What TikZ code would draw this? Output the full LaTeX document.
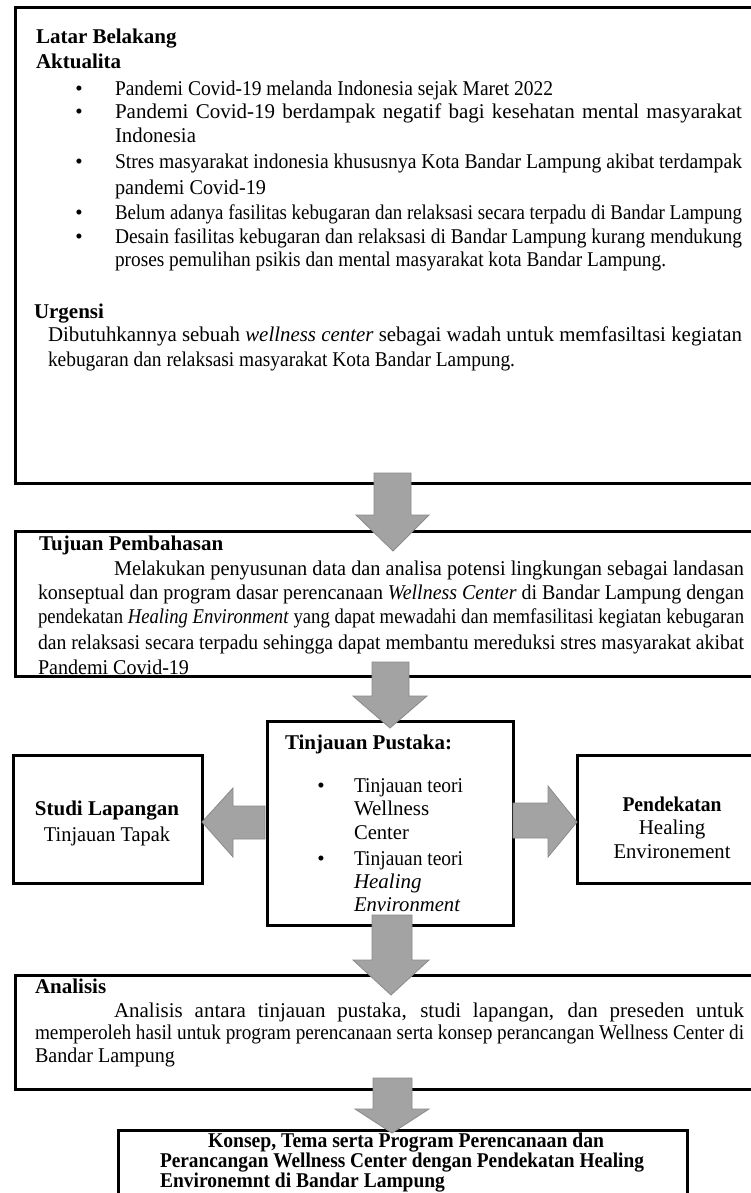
\documentclass[tikz,border=0pt]{standalone}
\usepackage{fontspec}
\setmainfont{Liberation Serif}
\usepackage{graphicx}
\definecolor{arrowgray}{RGB}{163,163,163}
\definecolor{arrowedge}{RGB}{138,138,138}
\newcommand\fs{\fontsize{21}{24}\selectfont}
% justified line: fit exactly to width
\newcommand\jl[2]{\setbox0=\hbox{#2}\ifdim\wd0>#1pt\relax\resizebox{#1pt}{\height}{#2}\else\makebox[#1pt][s]{#2}\fi}
% ragged line: condense only if too wide
\newcommand\jr[2]{\setbox0=\hbox{#2}\ifdim\wd0>#1pt\relax\resizebox{#1pt}{\height}{#2}\else\box0\fi}
\tikzset{
  txt/.style={inner sep=0pt, outer sep=0pt, font=\fs, text=black},
  box/.style={draw=black, line width=3pt, inner sep=0pt, anchor=north west},
  blockarrow/.style={fill=arrowgray, draw=arrowedge, line width=0.8pt, line join=miter},
}
\newcommand\Tl[5]{\node[txt,anchor=base west] (#1) at (#2,#3) {\jl{#4}{#5}};}
\newcommand\Tr[5]{\node[txt,anchor=base west] (#1) at (#2,#3) {\jr{#4}{#5}};}
\newcommand\Tc[5]{\node[txt,anchor=base] (#1) at (#2,#3) {\jr{#4}{#5}};}
\newcommand\Bu[3]{\node[txt,anchor=base] (#1) at (#2,#3) {\textbullet};}
\begin{document}
\begin{tikzpicture}[x=1pt,y=-1pt]
\path[use as bounding box] (0,0) rectangle (751,1193);
\clip (0,0) rectangle (751,1193);
\fill[white] (0,0) rectangle (751,1193);

% ---- boxes ----
\node[box, minimum width=761pt, minimum height=476pt] (latar) at (14,6) {};
\node[box, minimum width=761pt, minimum height=145pt] (tujuan) at (14,530) {};
\node[box, minimum width=246pt, minimum height=204pt] (pustaka) at (266,720) {};
\node[box, minimum width=189pt, minimum height=128pt] (studi) at (12,754) {};
\node[box, minimum width=214pt, minimum height=128pt] (pendekatan) at (576,754) {};
\node[box, minimum width=761pt, minimum height=114pt] (analisis) at (14,974) {};
\node[box, minimum width=569pt, minimum height=90pt] (konsep) at (117,1129) {};

% ---- Latar Belakang ----
\Tr{t1}{36}{44}{144}{\bfseries Latar Belakang}
\Tr{t2}{36}{69}{90}{\bfseries Aktualita}
\Bu{d1}{79}{96}\Tr{t3}{115}{96}{438}{Pandemi Covid-19 melanda Indonesia sejak Maret 2022}
\Bu{d2}{79}{119}\Tl{t4}{115}{119}{627}{Pandemi Covid-19 berdampak negatif bagi kesehatan mental masyarakat}
\Tr{t5}{115}{143}{81}{Indonesia}
\Bu{d3}{79}{169}\Tl{t6}{115}{169}{627}{Stres masyarakat indonesia khususnya Kota Bandar Lampung akibat terdampak}
\Tr{t7}{115}{194}{151}{pandemi Covid-19}
\Bu{d4}{79}{219}\Tl{t8}{115}{219}{627}{Belum adanya fasilitas kebugaran dan relaksasi secara terpadu di Bandar Lampung}
\Bu{d5}{79}{243}\Tl{t9}{115}{243}{627}{Desain fasilitas kebugaran dan relaksasi di Bandar Lampung kurang mendukung}
\Tr{t10}{115}{266}{551}{proses pemulihan psikis dan mental masyarakat kota Bandar Lampung.}
\Tr{t11}{34}{318}{72}{\bfseries Urgensi}
\Tl{t12}{48}{341}{694}{Dibutuhkannya sebuah \textit{wellness center} sebagai wadah untuk memfasiltasi kegiatan}
\Tr{t13}{48}{366}{467}{kebugaran dan relaksasi masyarakat Kota Bandar Lampung.}

% ---- Tujuan Pembahasan ----
\Tr{u1}{39}{550}{193}{\bfseries Tujuan Pembahasan}
\Tl{u2}{114}{575}{630}{Melakukan penyusunan data dan analisa potensi lingkungan sebagai landasan}
\Tl{u3}{38}{599}{706}{konseptual dan program dasar perencanaan \textit{Wellness Center} di Bandar Lampung dengan}
\Tl{u4}{38}{623}{706}{pendekatan \textit{Healing Environment} yang dapat mewadahi dan memfasilitasi kegiatan kebugaran}
\Tl{u5}{38}{649}{706}{dan relaksasi secara terpadu sehingga dapat membantu mereduksi stres masyarakat akibat}
\Tr{u6}{38}{674}{151}{Pandemi Covid-19}

% ---- Tinjauan Pustaka ----
\Tr{p1}{285}{749}{175}{\bfseries Tinjauan Pustaka:}
\Bu{e1}{321}{792}\Tr{p2}{354}{792}{109}{Tinjauan teori}
\Tr{p3}{354}{815}{77}{Wellness}
\Tr{p4}{354}{839}{55}{Center}
\Bu{e2}{321}{865}\Tr{p5}{354}{865}{109}{Tinjauan teori}
\Tr{p6}{354}{888}{70}{\itshape Healing}
\Tr{p7}{354}{911}{106}{\itshape Environment}

% ---- Studi Lapangan ----
\Tc{s1}{107}{815}{151}{\bfseries Studi Lapangan}
\Tc{s2}{107}{841}{126}{Tinjauan Tapak}

% ---- Pendekatan ----
\Tc{h1}{672}{811}{99}{\bfseries Pendekatan}
\Tc{h2}{672}{834}{67}{Healing}
\Tc{h3}{672}{858}{117}{Environement}

% ---- Analisis ----
\Tr{a1}{35}{993}{74}{\bfseries Analisis}
\Tl{a2}{114}{1017}{630}{Analisis antara tinjauan pustaka, studi lapangan, dan preseden untuk}
\Tl{a3}{35}{1039}{709}{memperoleh hasil untuk program perencanaan serta konsep perancangan Wellness Center di}
\Tr{a4}{35}{1062}{140}{Bandar Lampung}

% ---- Konsep ----
\Tc{k1}{406}{1147}{396}{\bfseries Konsep, Tema serta Program Perencanaan dan}
\Tr{k2}{160}{1167}{484}{\bfseries Perancangan Wellness Center dengan Pendekatan Healing}
\Tr{k3}{160}{1187}{285}{\bfseries Environemnt di Bandar Lampung}

% ---- block arrows ----
\draw[blockarrow] (374,473) -- (411,473) -- (411,515) -- (429,515) -- (393,551) -- (356,515) -- (374,515) -- cycle;
\draw[blockarrow] (372,662) -- (409,662) -- (409,696) -- (427,696) -- (390,728) -- (353,696) -- (372,696) -- cycle;
\draw[blockarrow] (372,915) -- (412,915) -- (412,960) -- (429,960) -- (391,995) -- (353,960) -- (372,960) -- cycle;
\draw[blockarrow] (373,1078) -- (412,1078) -- (412,1109) -- (429,1109) -- (392,1133) -- (355,1109) -- (373,1109) -- cycle;
\draw[blockarrow] (265,806) -- (233,806) -- (233,788) -- (202,822) -- (233,857) -- (233,839) -- (265,839) -- cycle;
\draw[blockarrow] (513,803) -- (548,803) -- (548,786) -- (577,822) -- (548,857) -- (548,838) -- (513,838) -- cycle;
\end{tikzpicture}
\end{document}
